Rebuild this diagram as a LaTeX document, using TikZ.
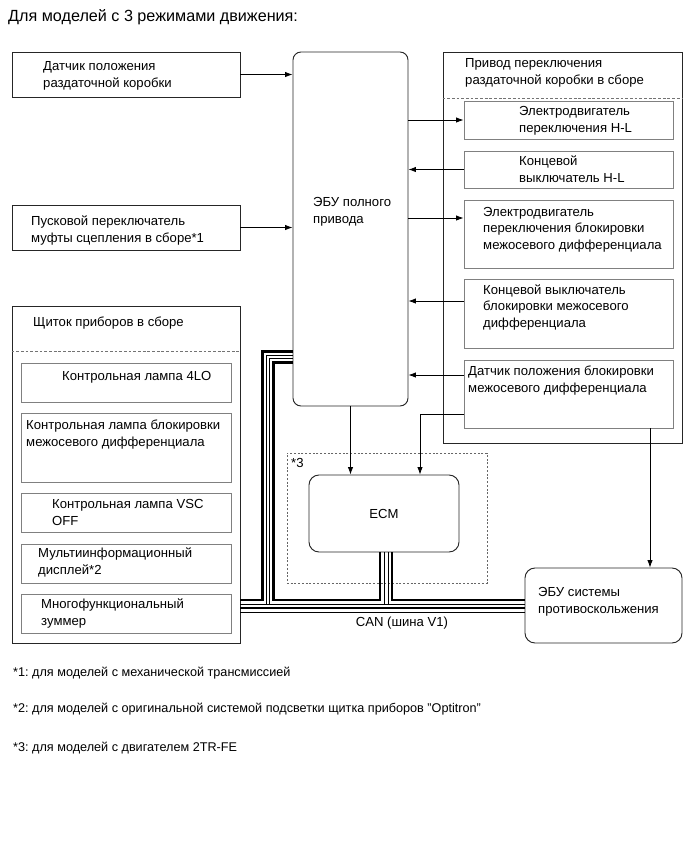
\documentclass[tikz,border=0pt]{standalone}
\usepackage{fontspec}
\setmainfont{Liberation Sans}
\usetikzlibrary{arrows.meta}
\frenchspacing

\begin{document}
\begin{tikzpicture}[x=0.03cm,y=-0.03cm,>=Latex,
  box/.style={draw=black!85,line width=0.8pt,inner sep=0pt},
  sub/.style={draw=black!50,line width=0.8pt,inner sep=0pt},
  ctl/.style={draw=black!85,line width=0.8pt,rounded corners=2.4mm,inner sep=0pt},
  grp/.style={draw=black!60,line width=0.8pt,dash pattern=on 1.7pt off 1.5pt,inner sep=0pt},
  txt/.style={align=left,inner sep=0pt,anchor=base west,font=\fontsize{11.2}{14}\selectfont},
  sep/.style={draw=black!55,line width=0.7pt,dash pattern=on 2.4pt off 1.6pt},
  arr/.style={-{Latex[length=2.2mm,width=1.6mm]},line width=0.7pt},
  canthick/.style={line width=1.8pt},
  canthin/.style={line width=0.6pt}]
\useasboundingbox (0,0) rectangle (690,854);

\node[txt,font=\fontsize{13.8}{16}\selectfont] (title) at (8,21) {Для моделей с 3 режимами движения:};

\node[box,minimum width=6.84cm,minimum height=1.35cm] (sens) at (126,74.5) {};
\node[txt] (sens-t) at (43,87) {Датчик положения\\раздаточной коробки};
\node[box,minimum width=6.84cm,minimum height=1.35cm] (clutch) at (126,227.5) {};
\node[txt] (clutch-t) at (31,242) {Пусковой переключатель\\муфты сцепления в сборе*1};

\node[ctl,minimum width=3.45cm,minimum height=10.62cm] (ecu) at (350.5,229) {};
\node[txt] (ecu-t) at (313,223) {ЭБУ полного\\привода};

\node[box,minimum width=7.17cm,minimum height=11.73cm] (act) at (562.5,247.5) {};
\node[txt] (act-t) at (465,84) {Привод переключения\\раздаточной коробки в сборе};
\draw[sep] ([yshift=-14.1mm]act.north west) -- ([yshift=-14.1mm]act.north east);
\node[sub,minimum width=6.27cm,minimum height=1.14cm] (hlm) at (568.5,120) {};
\node[txt] (hlm-t) at (519,132) {Электродвигатель\\переключения H-L};
\node[sub,minimum width=6.27cm,minimum height=1.11cm] (hls) at (568.5,169.5) {};
\node[txt] (hls-t) at (519,182) {Концевой\\выключатель H-L};
\node[sub,minimum width=6.27cm,minimum height=2.04cm] (dlm) at (568.5,234) {};
\node[txt] (dlm-t) at (483,249) {Электродвигатель\\переключения блокировки\\межосевого дифференциала};
\node[sub,minimum width=6.27cm,minimum height=2.07cm] (dls) at (568.5,313.5) {};
\node[txt] (dls-t) at (483,327) {Концевой выключатель\\блокировки межосевого\\дифференциала};
\node[sub,minimum width=6.27cm,minimum height=2.04cm] (dps) at (568.5,394) {};
\node[txt] (dps-t) at (468,392) {Датчик положения блокировки\\межосевого дифференциала};

\node[box,minimum width=6.84cm,minimum height=10.11cm] (panel) at (126,474.5) {};
\node[txt] (panel-t) at (33,326) {Щиток приборов в сборе};
\draw[sep] ([yshift=-13.8mm]panel.north west) -- ([yshift=-13.8mm]panel.north east);
\node[sub,minimum width=6.3cm,minimum height=1.17cm] (l4lo) at (126,382.5) {};
\node[txt] (l4lo-t) at (62,380) {Контрольная лампа 4LO};
\node[sub,minimum width=6.3cm,minimum height=2.07cm] (ldiff) at (126,447.5) {};
\node[txt] (ldiff-t) at (26,446) {Контрольная лампа блокировки\\межосевого дифференциала};
\node[sub,minimum width=6.3cm,minimum height=1.17cm] (lvsc) at (126,512.5) {};
\node[txt] (lvsc-t) at (52,525) {Контрольная лампа VSC\\OFF};
\node[sub,minimum width=6.3cm,minimum height=1.17cm] (lmid) at (126,563.5) {};
\node[txt] (lmid-t) at (38,574) {Мультиинформационный\\дисплей*2};
\node[sub,minimum width=6.3cm,minimum height=1.17cm] (lbuz) at (126,613.5) {};
\node[txt] (lbuz-t) at (41,625) {Многофункциональный\\зуммер};

\node[grp,minimum width=6cm,minimum height=3.9cm] (g3) at (387,518) {};
\node[txt] (g3-t) at (291,467) {*3};
\node[ctl,rounded corners=3mm,minimum width=4.5cm,minimum height=2.31cm,font=\fontsize{11.2}{14}\selectfont] (ecm) at (384,513.5) {ECM};

\node[ctl,rounded corners=3mm,minimum width=4.71cm,minimum height=2.25cm] (abs) at (603.5,605.5) {};
\node[txt] (abs-t) at (538,613) {ЭБУ системы\\противоскольжения};

\draw[arr] (sens.east) -- (sens.east -| ecu.west);
\draw[arr] (clutch.east) -- (clutch.east -| ecu.west);
\draw[arr] (hlm.west -| ecu.east) -- (hlm.west);
\draw[arr] (hls.west) -- (hls.west -| ecu.east);
\draw[arr] ([yshift=4.8mm]dlm.west -| ecu.east) -- ([yshift=4.8mm]dlm.west);
\draw[arr] ([yshift=3.75mm]dls.west) -- ([yshift=3.75mm]dls.west -| ecu.east);
\draw[arr] ([yshift=5.7mm]dps.west) -- ([yshift=5.7mm]dps.west -| ecu.east);
\draw[arr] (ecu.south) -- (ecu.south |- ecm.north);
\draw[arr] ([yshift=-6mm]dps.west) -| ([xshift=10.8mm]ecm.north);
\draw[arr] ([xshift=24.45mm]dps.south) -- ([xshift=24.45mm]dps.south |- abs.north);

\draw[canthick] ([yshift=16.5mm]ecu.south west) -| ([xshift=-9mm,yshift=1.65mm]ecu.west |- abs.west) -- ([yshift=1.65mm]abs.west -| panel.east);
\draw[canthin] ([yshift=15.3mm]ecu.south west) -| ([xshift=-7.8mm,yshift=0.45mm]ecu.west |- abs.west);
\draw[canthin] ([yshift=14.4mm]ecu.south west) -| ([xshift=-6.9mm,yshift=0.45mm]ecu.west |- abs.west);
\draw[canthick] ([yshift=13.2mm]ecu.south west) -| ([xshift=-5.7mm,yshift=1.65mm]ecu.west |- abs.west) -| ([xshift=-1.2mm]ecm.south);
\draw[canthin] (ecm.south) -- ([yshift=0.45mm]abs.west -| ecm.south);
\draw[canthin] ([xshift=1.2mm]ecm.south) -- ([xshift=1.2mm,yshift=0.45mm]abs.west -| ecm.south);
\draw[canthick] ([xshift=2.4mm]ecm.south) |- ([yshift=1.65mm]abs.west);
\draw[canthin] ([yshift=0.45mm]abs.west -| panel.east) -- ([yshift=0.45mm]abs.west);
\draw[canthick] ([yshift=-0.75mm]abs.west -| panel.east) -- ([yshift=-0.75mm]abs.west);
\draw[canthin] ([yshift=-1.95mm]abs.west -| panel.east) -- ([yshift=-1.95mm]abs.west);
\node[txt,anchor=base] (can-t) at (402,626) {CAN (шина V1)};

\node[txt,font=\fontsize{10.8}{13}\selectfont] (fn1) at (13,676) {*1: для моделей с механической трансмиссией};
\node[txt,font=\fontsize{10.8}{13}\selectfont] (fn2) at (13,712) {*2: для моделей с оригинальной системой подсветки щитка приборов "Optitron"};
\node[txt,font=\fontsize{10.8}{13}\selectfont] (fn3) at (13,751) {*3: для моделей с двигателем 2TR-FE};
\end{tikzpicture}
\end{document}
